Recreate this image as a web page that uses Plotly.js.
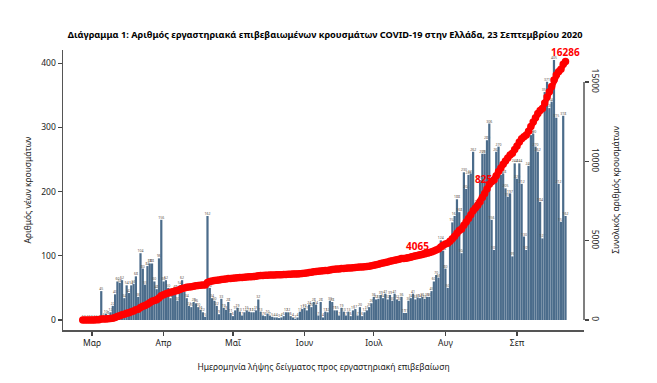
<!DOCTYPE html>
<html><head><meta charset="utf-8">
<script src="https://cdn.plot.ly/plotly-3.0.1.min.js"></script>
<style>html,body{margin:0;padding:0;background:#fff}#chart{width:657px;height:383px}</style>
</head><body><div id="chart"></div>
<script>
// Daily new laboratory-confirmed cases by sample date (26 Feb - 22 Sep 2020)
const casesFeb = [1,1,2,1];                       // 26-29 Feb
const casesMar = [1,2,2,2,45,4,10,8,12,22,40,60,58,62,34,54,42,54,56,68,36,104,80,55,84,88,88,60,48,96,156];
const casesApr = [60,62,50,34,44,48,30,54,62,44,34,22,20,28,26,20,16,12,5,162,50,34,30,22,9,33,19,16,28,11];
const casesMay = [6,15,19,13,7,12,15,13,12,12,15,32,13,7,6,10,7,5,4,4,3,4,6,12,12,6,4,2,4,13,17];
const casesJun = [19,15,24,20,28,24,7,28,4,13,12,30,28,15,15,7,19,13,7,13,6,15,17,7,20,6,12,15,20,26];
const casesJul = [36,32,33,39,34,41,32,39,30,41,32,30,36,11,11,30,34,41,32,35,34,36,33,36,36,45,60,70,66,124,108];
const casesAug = [80,50,122,152,162,188,168,104,230,204,226,228,262,170,180,218,259,259,280,306,156,109,262,270,226,228,205,192,197,99,244];
const casesSep = [220,244,212,130,109,240,288,290,270,262,184,127,355,371,330,340,405,315,212,153,318,162];

const monthTickDates = ['2020-03-01','2020-04-01','2020-05-01','2020-06-01','2020-07-01','2020-08-01','2020-09-01'];
const monthTickLabels = ['Μαρ','Απρ','Μαΐ','Ιουν','Ιουλ','Αυγ','Σεπ'];
const leftTicks = [0,100,200,300,400];
const rightTicks = [0,5000,10000,15000];
const labelledDates = ['2020-07-20','2020-08-19','2020-09-22'];

const cases = [].concat(casesFeb,casesMar,casesApr,casesMay,casesJun,casesJul,casesAug,casesSep);
const dates = cases.map((_,i)=>new Date(Date.UTC(2020,1,26+i)).toISOString().slice(0,10));
let run = 0;
const cumulative = cases.map(v => (run += v));

const FONT = "'Noto Sans', 'DejaVu Sans', sans-serif";

const bars = {
  type:'bar', x:dates, y:cases, yaxis:'y',
  marker:{color:'#4b6c8b', line:{width:0}},
  text:cases.map(String), textposition:'outside', textangle:0,
  constraintext:'none', cliponaxis:false,
  textfont:{size:3.5, color:'#5a5047', family:FONT},
  hoverinfo:'x+y'
};
const line = {
  type:'scatter', mode:'lines+markers', x:dates, y:cumulative, yaxis:'y2',
  line:{color:'#ff0000', width:5.5}, marker:{color:'#ff0000', size:7.5},
  cliponaxis:false
};

const annotations = labelledDates.map(d => {
  const i = dates.indexOf(d);
  return {x:d, y:cumulative[i], xref:'x', yref:'y2', text:'<b>'+cumulative[i]+'</b>',
    showarrow:false, yshift:10, font:{family:FONT, size:10, color:'#ff0000'}};
});

const layout = {
  width:657, height:383,
  margin:{l:63, r:73, t:50, b:53},
  paper_bgcolor:'#ffffff', plot_bgcolor:'#ffffff',
  font:{family:FONT, color:'#333333'},
  showlegend:false,
  bargap:0.04,
  title:{text:'<b>Διάγραμμα 1: Αριθμός εργαστηριακά επιβεβαιωμένων κρουσμάτων COVID-19 στην Ελλάδα, 23 Σεπτεμβρίου 2020</b>',
    font:{family:FONT, size:9.2, color:'#000'}, xref:'container', x:0.495, xanchor:'center', y:0.9086, yanchor:'middle'},
  xaxis:{type:'date', range:['2020-02-17 10:42','2020-09-30 00:00'],
    tickvals:monthTickDates, ticktext:monthTickLabels,
    ticks:'outside', ticklen:4, tickcolor:'#444', tickwidth:1.2,
    showline:true, linecolor:'#555', linewidth:1.5, showgrid:false, zeroline:false,
    tickfont:{size:8.5, color:'#222'},
    title:{text:'Ημερομηνία λήψης δείγματος προς εργαστηριακή επιβεβαίωση', font:{size:8.5, color:'#222'}, standoff:17}},
  yaxis:{range:[-15.58,420.5], tickvals:leftTicks,
    ticks:'outside', ticklen:4, tickcolor:'#444', tickwidth:1.2,
    showline:true, linecolor:'#555', linewidth:1.5, showgrid:false, zeroline:false,
    tickfont:{size:8.5, color:'#222'},
    title:{text:'Αριθμός νέων κρουσμάτων', font:{size:8.5, color:'#222'}, standoff:8}},
  yaxis2:{overlaying:'y', side:'right', range:[-630,17017], tickvals:rightTicks, ticktext:rightTicks.map(String),
    ticks:'outside', ticklen:4, tickcolor:'#444', tickwidth:1.2, tickangle:90,
    showline:false, showgrid:false, zeroline:false,
    tickfont:{size:8.5, color:'#222'},
    title:{text:'Συνολικός αριθμός κρουσμάτων', font:{size:8.5, color:'#222'}, standoff:12}},
  shapes:[{type:'line', xref:'paper', x0:1, x1:1, yref:'y2', y0:0, y1:15000, line:{color:'#555', width:1.5}}],
  annotations:annotations
};

Plotly.newPlot('chart', [bars, line], layout, {displayModeBar:false, staticPlot:true});
</script>
</body></html>
